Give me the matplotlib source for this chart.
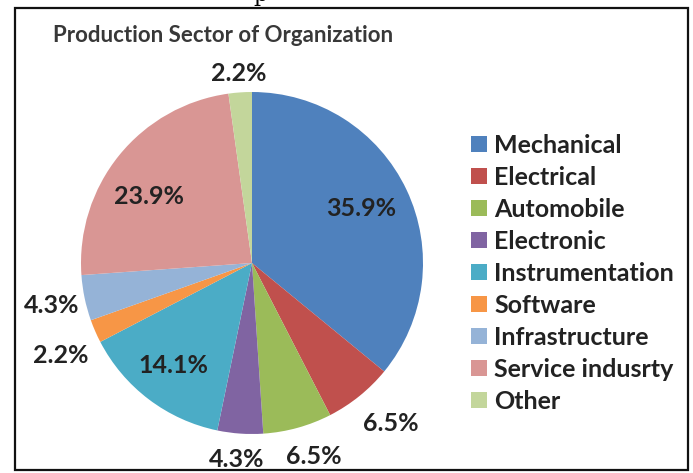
import matplotlib.pyplot as plt
from matplotlib.patches import Rectangle

sectors = ['Mechanical', 'Electrical', 'Automobile', 'Electronic', 'Instrumentation',
           'Software', 'Infrastructure', 'Service indusrty', 'Other']
shares = [35.9, 6.5, 6.5, 4.3, 14.1, 2.2, 4.3, 23.9, 2.2]
colors = ['#4F81BD', '#C0504D', '#9BBB59', '#8064A2', '#4BACC6',
          '#F79646', '#95B3D7', '#D99694', '#C3D69B']

# where Excel put the percent labels, in pie radius units
label_pos = [(0.64, 0.32), (0.81, -0.94), (0.36, -1.13), (-0.09, -1.15), (-0.46, -0.60),
             (-1.12, -0.54), (-1.17, -0.25), (-0.60, 0.39), (-0.08, 1.11)]

plt.rcParams['font.family'] = ['Lato', 'DejaVu Sans']

W, H = 693, 473
fig = plt.figure(figsize=(W / 100, H / 100), dpi=100)

# chart frame
fig.patches.append(Rectangle((15 / W, 3 / H), 673 / W, 462 / H, transform=fig.transFigure,
                             fill=False, edgecolor='#111111', linewidth=1.6))
# descender of a cut-off line above the chart
fig.text(253 / W, 1 + 5 / H, 'p', family='DejaVu Serif', fontsize=16, color='black',
         ha='left', va='center')

cx, cy, r = 252, 263, 171
ax = fig.add_axes([(cx - r) / W, (H - cy - r) / H, 2 * r / W, 2 * r / H])
wedges, _ = ax.pie(shares, colors=colors, startangle=90, counterclock=False,
                   wedgeprops=dict(linewidth=0))
ax.set_xlim(-1, 1)
ax.set_ylim(-1, 1)
ax.axis('off')

for (x, y), v in zip(label_pos, shares):
    ax.text(x, y, f'{v}%', ha='center', va='center', fontsize=18,
            fontweight='bold', color='#222222')

fig.text(53 / W, 1 - 36 / H, 'Production Sector of Organization', fontsize=16,
         fontweight='bold', color='#383838', ha='left', va='center')

leg = fig.legend(wedges, sectors, loc='center left', bbox_to_anchor=(471 / W, 1 - 273 / H),
                 frameon=False, handlelength=0.62, handleheight=0.62,
                 handletextpad=0.3, labelspacing=0.36, borderpad=0, borderaxespad=0,
                 prop=dict(weight='bold', size=18))
for t in leg.get_texts():
    t.set_color('#222222')

fig.savefig('out.png', dpi=100)
